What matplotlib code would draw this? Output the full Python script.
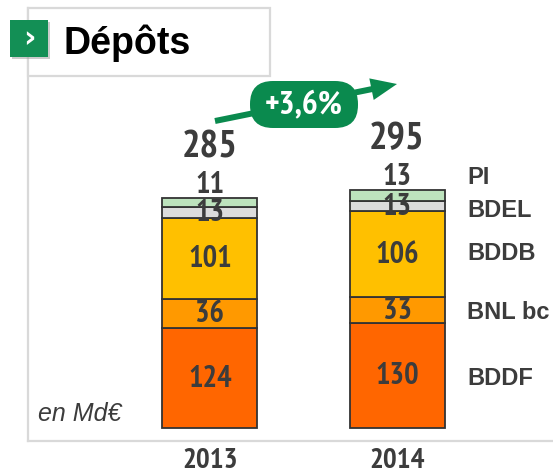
import matplotlib
matplotlib.use("Agg")
import matplotlib.pyplot as plt
from matplotlib.patches import Rectangle, FancyBboxPatch, FancyArrow
from matplotlib import font_manager

# data (Md€)
years = ['2013', '2014']
segments = ['BDDF', 'BNL bc', 'BDDB', 'BDEL', 'PI']
bddf = [124, 130]
bnl = [36, 33]
bddb = [101, 106]
bdel = [13, 13]
pi = [11, 13]
totals = [285, 295]
growth = '+3,6%'

colors = ['#FF6600', '#FF9900', '#FFC000', '#DCDCDC', '#BDE3BD']
GREEN = '#0A8A4E'
TXT = '#3C3C3C'

# narrow bold face for the figures if one is around, else plain Liberation Sans
bold_faces = {f.name for f in font_manager.fontManager.ttflist
              if f.weight in (700, 'bold') and f.style == 'normal'}
NARROW = 'Liberation Sans'
for cand in ['Liberation Sans Narrow', 'Arial Narrow', 'PT Sans Narrow', 'Archivo Narrow',
             'Roboto Condensed', 'Fira Sans Condensed', 'IBM Plex Sans Condensed',
             'Encode Sans Condensed', 'Open Sans Condensed']:
    if cand in bold_faces:
        NARROW = cand
        break
SANS = 'Liberation Sans'
k = 1.0 if NARROW != SANS else 0.82

W, H = 553, 473
fig = plt.figure(figsize=(W / 100, H / 100), dpi=100)

# main axes, placed in pixel units
L, R, T, B = 28, 553, 8, 441
ax = fig.add_axes([L / W, (H - B) / H, (R - L) / W, (B - T) / H])
ax.set_xlim(-0.973, 1.834)
ax.set_ylim(-16.1, 521.1)

x = [0, 1]
series = [bddf, bnl, bddb, bdel, pi]
bottom = [0, 0]
centers = []
for vals, c in zip(series, colors):
    ax.bar(x, vals, width=0.508, bottom=bottom, color=c, edgecolor='#333333', linewidth=1.3, zorder=2)
    centers.append([b + v / 2 for b, v in zip(bottom, vals)])
    bottom = [b + v for b, v in zip(bottom, vals)]

# values inside segments (PI above the bar)
for s in range(4):
    for i in range(2):
        ax.text(x[i], centers[s][i] - 1, str(series[s][i]), ha='center', va='center',
                fontsize=22 * k, fontweight='bold', color=TXT, family=NARROW, zorder=3)
for i in range(2):
    ax.text(x[i], totals[i] + 16, str(pi[i]), ha='center', va='center',
            fontsize=22 * k, fontweight='bold', color=TXT, family=NARROW, zorder=3)
    ax.text(x[i], totals[i] + 63, str(totals[i]), ha='center', va='center',
            fontsize=28 * k, fontweight='bold', color=TXT, family=NARROW, zorder=3)

# segment names on the right
label_y = [centers[0][1] - 4, centers[1][1] - 3, centers[2][1] + 1, centers[3][1] - 6, totals[1] + 16]
for name, yv in zip(segments, label_y):
    ax.text(1.374, yv, name, ha='left', va='center', fontsize=17, fontweight='bold',
            color=TXT, family=SANS)

ax.text(-0.92, 18, 'en Md€', ha='left', va='center', fontsize=18, style='italic',
        color=TXT, family=SANS)

ax.set_xticks(x, years)
ax.tick_params(axis='x', length=0, pad=5)
for lab in ax.get_xticklabels():
    lab.set_fontsize(21 * k)
    lab.set_fontweight('bold')
    lab.set_color(TXT)
    lab.set_family(NARROW)
ax.set_yticks([])
for side in ['top', 'right']:
    ax.spines[side].set_visible(False)
for side in ['left', 'bottom']:
    ax.spines[side].set_color('#D9D9D9')
    ax.spines[side].set_linewidth(1.6)

# overlay in pixel coordinates for the decorations
ov = fig.add_axes([0, 0, 1, 1])
ov.set_xlim(0, W)
ov.set_ylim(H, 0)
ov.axis('off')

ov.add_patch(Rectangle((28, 8), 242, 68, facecolor='white', edgecolor='#D9D9D9', linewidth=1.6))
ov.add_patch(Rectangle((12, 22), 38, 37, facecolor='#9a9a9a', edgecolor='none', alpha=0.5))
ov.add_patch(Rectangle((10, 20), 38, 37, facecolor='#138F55', edgecolor='none'))
ov.text(29, 39, '›', ha='center', va='center', color='white', fontsize=22, fontweight='bold', family='DejaVu Sans')
ov.text(63, 43, 'Dépôts', ha='left', va='center', fontsize=27, fontweight='bold', color='black', family=SANS)

ov.add_patch(FancyArrow(215, 121, 182, -37, width=6, head_width=22, head_length=26,
                        length_includes_head=True, color=GREEN, linewidth=0))
ov.add_patch(FancyBboxPatch((250, 81), 108, 47, boxstyle='round,pad=0,rounding_size=23',
                            facecolor=GREEN, edgecolor='none'))
ov.text(304, 105, growth, ha='center', va='center', color='white', fontsize=24 * k,
        fontweight='bold', family=NARROW)

fig.savefig('out.png', dpi=100)
